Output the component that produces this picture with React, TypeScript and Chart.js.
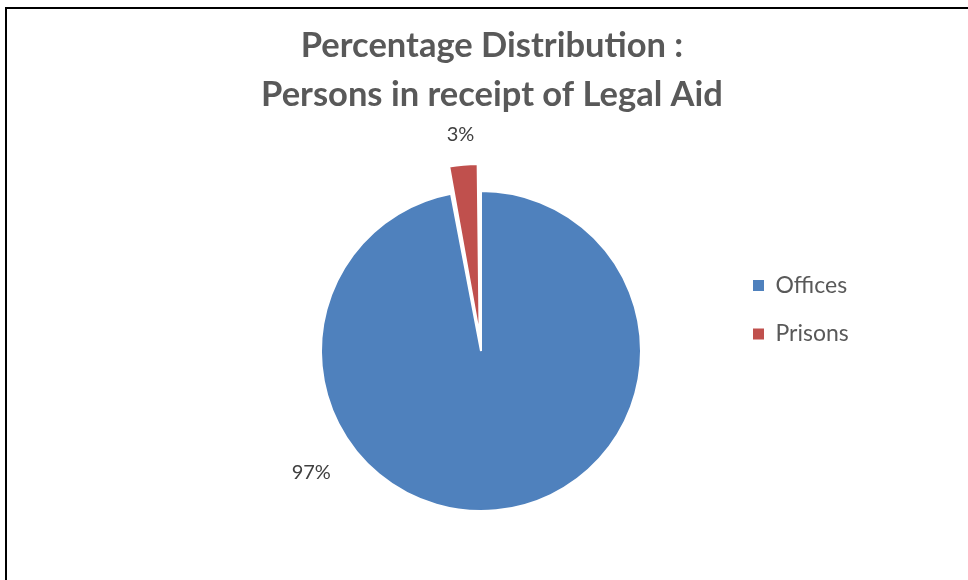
import React, { useEffect, useRef } from "react";
import { Chart, registerables, layouts } from "chart.js";

Chart.register(...registerables);

const categories = ["Offices", "Prisons"];
const shares = [97, 3];
const sliceColors = ["#4F81BD", "#C0504D"];
const explode = [0, 60];
const titleLines = ["Percentage Distribution :", "Persons in receipt of Legal Aid"];

// label placement (layout only): angle override in degrees clockwise from 12 o'clock, gap beyond rim
const LABEL_ANGLE: (number | null)[] = [234.3, null];
const LABEL_GAP = [49, 57];
const SPACER_W = 103.5;

const pctLabels = {
  id: "pctLabels",
  afterDatasetsDraw(chart: any) {
    const meta = chart.getDatasetMeta(0);
    const data = chart.data.datasets[0].data as number[];
    const total = data.reduce((a, b) => a + b, 0);
    const ctx = chart.ctx;
    ctx.save();
    ctx.font = "20px Lato";
    ctx.fillStyle = "#404040";
    ctx.textAlign = "center";
    ctx.textBaseline = "middle";
    meta.data.forEach((arc: any, i: number) => {
      const p = arc.getProps(["x", "y", "startAngle", "endAngle", "outerRadius"], true);
      const ov = LABEL_ANGLE[i];
      const a = ov == null ? (p.startAngle + p.endAngle) / 2 : ((ov - 90) * Math.PI) / 180;
      const r = p.outerRadius + LABEL_GAP[i];
      const txt = Math.round((data[i] / total) * 100) + "%";
      ctx.fillText(txt, p.x + Math.cos(a) * r, p.y + Math.sin(a) * r);
    });
    ctx.restore();
  },
};

// invisible left layout box: shifts the plot area only (not the full-width title)
const spacer = {
  id: "spacer",
  start(chart: any) {
    const box: any = {
      position: "left",
      weight: 0,
      fullSize: false,
      options: {},
      width: 0,
      height: 0,
      left: 0,
      top: 0,
      right: 0,
      bottom: 0,
      isHorizontal() {
        return false;
      },
      update(_w: number, h: number) {
        box.width = SPACER_W;
        box.height = h;
      },
      draw() {},
    };
    chart._spacerBox = box;
    layouts.addBox(chart, box);
  },
  stop(chart: any) {
    if (chart._spacerBox) layouts.removeBox(chart, chart._spacerBox);
  },
};

export default function App() {
  const ref = useRef<HTMLCanvasElement>(null);
  useEffect(() => {
    if (!ref.current) return;
    const chart = new Chart(ref.current, {
      type: "pie",
      data: {
        labels: categories,
        datasets: [
          {
            data: shares,
            backgroundColor: sliceColors,
            borderColor: "#FFFFFF",
            borderWidth: 2,
            offset: explode,
          } as any,
        ],
      },
      options: {
        responsive: false,
        animation: false,
        radius: 160,
        layout: { padding: { left: 131, right: 115, top: 19.6, bottom: 20.1 } },
        plugins: {
          tooltip: { enabled: false },
          title: {
            display: true,
            text: titleLines,
            color: "#595959",
            font: { family: "Lato", size: 34.5, weight: "bold", lineHeight: 49 / 34.5 },
            padding: { top: 2, bottom: -17.5 },
          },
          legend: {
            position: "right",
            maxWidth: 125.5,
            align: "center",
            labels: {
              boxWidth: 11,
              boxHeight: 11,
              padding: 25.5,
              color: "#595959",
              font: { family: "Lato", size: 23 },
              generateLabels: (c: any) =>
                (Chart as any).overrides.pie.plugins.legend.labels
                  .generateLabels(c)
                  .map((l: any) => ({ ...l, lineWidth: 0 })),
            },
          },
        },
      } as any,
      plugins: [pctLabels, spacer],
    });
    return () => chart.destroy();
  }, []);
  return (
    <div
      style={{
        position: "fixed",
        left: 0,
        top: 0,
        width: 968,
        height: 580,
        overflow: "hidden",
        background: "#fff",
      }}
    >
      <div
        style={{
          position: "absolute",
          left: 5,
          top: 7,
          width: 1100,
          height: 1100,
          border: "2px solid #000",
          boxSizing: "border-box",
        }}
      />
      <canvas
        ref={ref}
        width={968}
        height={620}
        style={{ position: "absolute", left: 0, top: 0 }}
      />
    </div>
  );
}
